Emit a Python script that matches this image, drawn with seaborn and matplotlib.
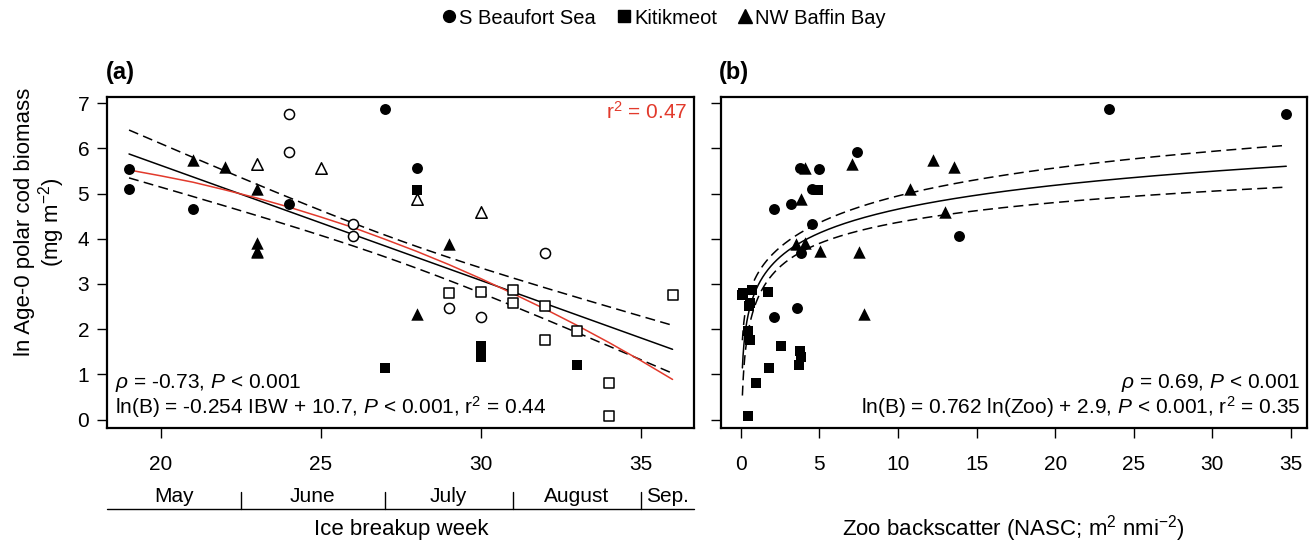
import numpy as np
import pandas as pd
import matplotlib
matplotlib.use("Agg")
import matplotlib.pyplot as plt
import matplotlib.transforms as mtransforms
from matplotlib.lines import Line2D
import seaborn as sns

# ---------------- data ----------------
region = (["S Beaufort Sea"] * 13) + (["Kitikmeot"] * 16) + (["NW Baffin Bay"] * 12)
ice_breakup_week = [19, 19, 21, 24, 27, 28, 24, 24, 26, 26, 29, 30, 32,
                    28, 27, 30, 30, 30, 33, 29, 30, 31, 31, 32, 32, 33, 34, 34, 36,
                    21, 22, 23, 23, 23, 23, 28, 29, 23, 25, 28, 30]
ln_biomass = [5.54, 5.09, 4.65, 4.77, 6.86, 5.56, 6.76, 5.92, 4.33, 4.07, 2.48, 2.27, 3.68,
              5.08, 1.15, 1.64, 1.51, 1.38, 1.21, 2.79, 2.83, 2.86, 2.57, 2.51, 1.77, 1.96, 0.81, 0.08, 2.75,
              5.75, 5.59, 5.10, 3.90, 3.74, 3.71, 2.33, 3.88, 5.65, 5.56, 4.87, 4.60]
zoo_nasc = [4.96, 4.50, 2.10, 3.20, 23.43, 3.75, 34.70, 7.40, 4.56, 13.87, 3.59, 2.10, 3.84,
            4.90, 1.78, 2.53, 3.75, 3.86, 3.69, 0.16, 1.75, 0.73, 0.58, 0.50, 0.58, 0.45, 0.96, 0.45, 0.10,
            12.20, 13.57, 10.74, 4.11, 5.02, 7.52, 7.82, 3.52, 7.08, 4.11, 3.80, 12.98]
open_symbol = [0, 0, 0, 0, 0, 0, 1, 1, 1, 1, 1, 1, 1,
               0, 0, 0, 0, 0, 0, 1, 1, 1, 1, 1, 1, 1, 1, 1, 1,
               0, 0, 0, 0, 0, 0, 0, 0, 1, 1, 1, 1]

# red (nonlinear) fit in panel a
red_week = list(range(19, 37))
red_ln_b = [5.52, 5.39, 5.25, 5.08, 4.90, 4.70, 4.48, 4.25, 3.99, 3.72,
            3.43, 3.12, 2.79, 2.45, 2.09, 1.71, 1.31, 0.89]

# stated models
ibw_slope, ibw_intercept = -0.254, 10.7
zoo_slope, zoo_intercept = 0.762, 2.9

region_order = ["S Beaufort Sea", "Kitikmeot", "NW Baffin Bay"]
month_names = ["May", "June", "July", "August", "Sep."]
month_breaks = [22.5, 27.0, 31.0, 35.0]
x_ticks_a = [20, 25, 30, 35]
x_ticks_b = [0, 5, 10, 15, 20, 25, 30, 35]
y_ticks = [0, 1, 2, 3, 4, 5, 6, 7]

df = pd.DataFrame({"region": region, "ibw": ice_breakup_week, "lnb": ln_biomass,
                   "zoo": zoo_nasc, "open": np.array(open_symbol, bool)})

# ---------------- style ----------------
sns.set_style("ticks")
plt.rcParams["font.family"] = ["Liberation Sans", "DejaVu Sans"]
plt.rcParams["mathtext.fontset"] = "custom"
plt.rcParams["mathtext.rm"] = "Liberation Sans"
plt.rcParams["mathtext.it"] = "Liberation Sans:italic"
plt.rcParams["mathtext.bf"] = "Liberation Sans:bold"
for key in ["text.color", "axes.labelcolor", "xtick.color", "ytick.color",
            "xtick.labelcolor", "ytick.labelcolor", "axes.edgecolor"]:
    plt.rcParams[key] = "black"

FS = 15
RED = "#e23a2c"
marker_of = {"S Beaufort Sea": "o", "Kitikmeot": "s", "NW Baffin Bay": "^"}
size_of = {"S Beaufort Sea": 62, "Kitikmeot": 52, "NW Baffin Bay": 80}

fig = plt.figure(figsize=(13.12, 5.43), dpi=100)
W, H = 1312.0, 543.0
bot, top = 428.3, 96.7
axA = fig.add_axes([107.3 / W, 1 - bot / H, (694.3 - 107.3) / W, (bot - top) / H])
axB = fig.add_axes([720.7 / W, 1 - bot / H, (1306.7 - 720.7) / W, (bot - top) / H])


def band(x, y, grid, k):
    x = np.asarray(x, float)
    y = np.asarray(y, float)
    n = len(x)
    xb = x.mean()
    sxx = ((x - xb) ** 2).sum()
    b, a = np.polyfit(x, y, 1)
    s = np.sqrt(((y - (a + b * x)) ** 2).sum() / (n - 2))
    return k * s * np.sqrt(1.0 / n + (grid - xb) ** 2 / sxx)


# ---------------- panel (a) ----------------
for reg in region_order:
    sub = df[df.region == reg]
    m, s = marker_of[reg], size_of[reg]
    sns.scatterplot(data=sub[~sub.open], x="ibw", y="lnb", marker=m, s=s,
                    color="black", linewidth=0, ax=axA, zorder=3)
    sns.scatterplot(data=sub[sub.open], x="ibw", y="lnb", marker=m, s=s * 0.85,
                    color="white", edgecolor="black", linewidth=1.1, ax=axA, zorder=3)

gx = np.linspace(min(ice_breakup_week), max(ice_breakup_week), 200)
gy = ibw_intercept + ibw_slope * gx
hw = band(df.ibw, df.lnb, gx, 1.23)
axA.plot(gx, gy, color="black", lw=1.1, zorder=2)
axA.plot(gx, gy + hw, color="black", lw=1.1, ls=(0, (6.5, 3.5)), zorder=2)
axA.plot(gx, gy - hw, color="black", lw=1.1, ls=(0, (6.5, 3.5)), zorder=2)
sns.lineplot(x=red_week, y=red_ln_b, color=RED, lw=1.1, ax=axA, zorder=2)

axA.set_xlim(18.32, 36.68)
axA.set_ylim(-0.19, 7.14)
axA.set_xticks(x_ticks_a)
axA.set_yticks(y_ticks)
axA.set_xlabel("")
axA.set_ylabel("")

axA.text(0.9875, 0.954, "r$^2$ = 0.47", transform=axA.transAxes, ha="right",
         va="center", color=RED, fontsize=FS)
axA.text(0.013, 0.137, r"$\rho$ = -0.73, $P$ < 0.001", transform=axA.transAxes,
         ha="left", va="center", fontsize=FS)
axA.text(0.013, 0.065, r"ln(B) = -0.254 IBW + 10.7, $P$ < 0.001, r$^2$ = 0.44",
         transform=axA.transAxes, ha="left", va="center", fontsize=FS)

# month axis under panel (a)
trans = mtransforms.blended_transform_factory(axA.transData, axA.transAxes)
line_y, sep_top, txt_y = -0.2434, -0.192, -0.207
axA.plot([0, 1], [line_y, line_y], transform=axA.transAxes, color="black",
         lw=1.0, clip_on=False)
for xb in month_breaks:
    axA.plot([xb, xb], [sep_top, line_y], transform=trans, color="black",
             lw=1.0, clip_on=False)
edges = [axA.get_xlim()[0]] + month_breaks + [axA.get_xlim()[1]]
for name, lo, hi in zip(month_names, edges[:-1], edges[1:]):
    axA.text((lo + hi) / 2, txt_y, name, transform=trans, ha="center",
             va="center", fontsize=FS)
label_base = -0.322
axA.text(0.5, label_base, "Ice breakup week", transform=axA.transAxes,
         ha="center", va="baseline", fontsize=16)

# ---------------- panel (b) ----------------
for reg in region_order:
    sub = df[df.region == reg]
    sns.scatterplot(data=sub, x="zoo", y="lnb", marker=marker_of[reg],
                    s=size_of[reg], color="black", linewidth=0, ax=axB, zorder=3)

lu = np.log(np.asarray(zoo_nasc))
gu = np.linspace(lu.min(), lu.max(), 400)
gyb = zoo_intercept + zoo_slope * gu
hwb = band(lu, df.lnb, gu, 1.0)
gxb = np.exp(gu)
axB.plot(gxb, gyb, color="black", lw=1.1, zorder=2)
axB.plot(gxb, gyb + hwb, color="black", lw=1.1, ls=(0, (6.5, 3.5)), zorder=2)
axB.plot(gxb, gyb - hwb, color="black", lw=1.1, ls=(0, (6.5, 3.5)), zorder=2)

axB.set_xlim(-1.28, 36.0)
axB.set_ylim(-0.19, 7.14)
axB.set_xticks(x_ticks_b)
axB.set_yticks(y_ticks)
axB.set_yticklabels([])
axB.set_xlabel("")
axB.set_ylabel("")

axB.text(0.990, 0.137, r"$\rho$ = 0.69, $P$ < 0.001", transform=axB.transAxes,
         ha="right", va="center", fontsize=FS)
axB.text(0.990, 0.065, r"ln(B) = 0.762 ln(Zoo) + 2.9, $P$ < 0.001, r$^2$ = 0.35",
         transform=axB.transAxes, ha="right", va="center", fontsize=FS)
axB.text(0.5, label_base, "Zoo backscatter (NASC; m$^2$ nmi$^{-2}$)",
         transform=axB.transAxes, ha="center", va="baseline", fontsize=16)

for ax in (axA, axB):
    for sp in ax.spines.values():
        sp.set_linewidth(1.6)
        sp.set_color("black")
    ax.tick_params(axis="both", direction="out", length=7, width=1.0,
                   color="black", labelsize=FS, labelcolor="black")
    ax.tick_params(axis="x", pad=12)
    ax.tick_params(axis="y", pad=6)

# y label, panel letters, legend
fig.text(0.031, 1 - 222 / H, "ln Age-0 polar cod biomass\n(mg m$^{-2}$)",
         rotation=90, ha="center", va="center", multialignment="center",
         fontsize=16, linespacing=1.05)
fig.text(106 / W, 1 - 72 / H, "(a)", fontweight="bold", fontsize=17,
         ha="left", va="center")
fig.text(719 / W, 1 - 72 / H, "(b)", fontweight="bold", fontsize=17,
         ha="left", va="center")

handles = [Line2D([], [], ls="none", marker=marker_of[r], color="black",
                  markersize=8.5 if r != "NW Baffin Bay" else 9.5) for r in region_order]
fig.legend(handles, region_order, loc="center", bbox_to_anchor=(0.505, 1 - 18 / H),
           ncol=3, frameon=False, fontsize=14.5, handletextpad=0.0,
           columnspacing=0.9, handlelength=1.0, borderaxespad=0)

fig.savefig("out.png", dpi=100)
